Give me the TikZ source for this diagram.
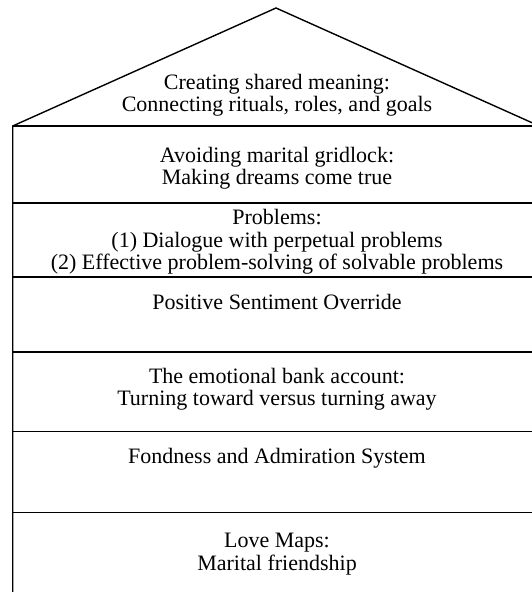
\documentclass[tikz,border=0pt]{standalone}
\usepackage{fontspec}
\setmainfont{Liberation Serif}
\begin{document}
\begin{tikzpicture}[x=1pt,y=-1pt,
  wall/.style={line width=1.4pt,black},
  label/.style={align=center,font=\fontsize{22}{22.5}\selectfont,inner sep=0pt}]
\useasboundingbox (0,0) rectangle (532,592);
\clip (0,0) rectangle (532,592);
\fill[white] (0,0) rectangle (532,592);
% house outline
\draw[wall,line join=miter] (12.7,600) -- (12.7,126) -- (276,8) -- (539.3,126) -- (539.3,600);
\foreach \yy in {126,203,277,352,431.5,512.5}
  \draw[wall] (12.7,\yy) -- (539.3,\yy);
% texts
\node[label] (roof) at (277,95) {Creating shared meaning:\\Connecting rituals, roles, and goals};
\node[label] (gridlock) at (277,168) {Avoiding marital gridlock:\\Making dreams come true};
\node[label] (problems) at (277,242) {Problems:\\(1) Dialogue with perpetual problems\\(2) Effective problem-solving of solvable problems};
\node[label] (pso) at (277,302) {Positive Sentiment Override};
\node[label] (bank) at (277,389) {The emotional bank account:\\Turning toward versus turning away};
\node[label] (fondness) at (277,458) {Fondness and Admiration System};
\node[label] (love) at (277,554) {Love Maps:\\Marital friendship};
\end{tikzpicture}
\end{document}
